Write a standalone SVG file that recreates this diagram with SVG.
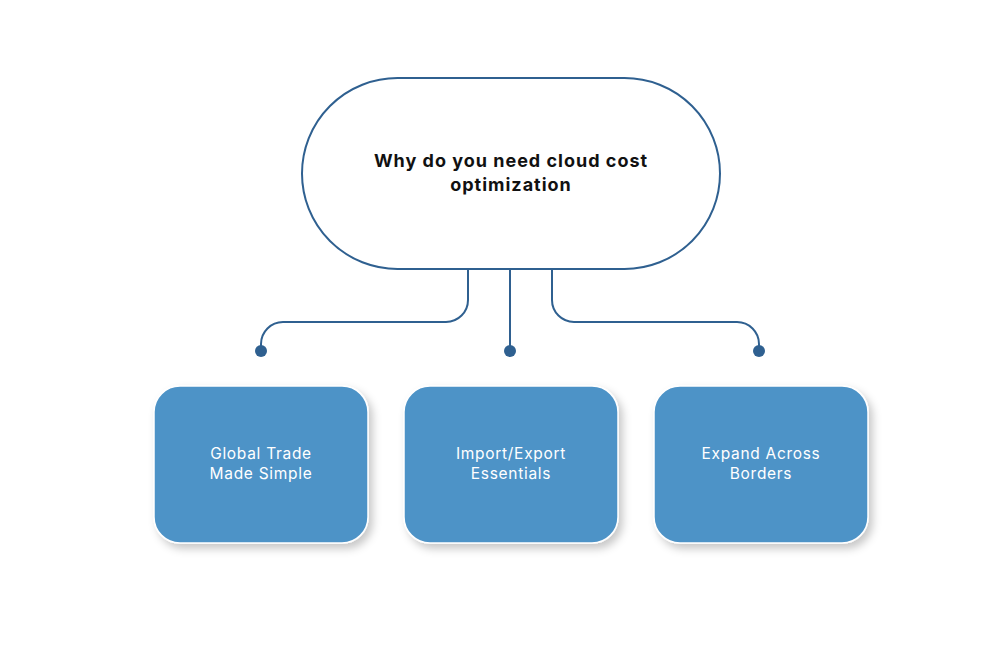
<svg xmlns="http://www.w3.org/2000/svg" width="998" height="652" viewBox="0 0 998 652">
<defs>
<filter id="sh" x="-20%" y="-20%" width="150%" height="150%">
<feDropShadow dx="4" dy="5" stdDeviation="4" flood-color="#000" flood-opacity="0.22"/>
</filter>
<style>
.box{fill:#4d93c7;stroke:#ffffff;stroke-width:1.5;filter:url(#sh)}
.bt{fill:#ffffff;font-family:"Inter","Liberation Sans",sans-serif;font-size:15.5px;letter-spacing:0.7px;text-anchor:middle}
.con{fill:none;stroke:#2f6090;stroke-width:2}
.dot{fill:#2f6090}
.tt{fill:#111;font-family:"Inter","Liberation Sans",sans-serif;font-size:18px;font-weight:bold;letter-spacing:1px;text-anchor:middle}
</style>
</defs>
<rect width="998" height="652" fill="#ffffff"/>
<g id="root">
<rect x="302" y="78" width="418" height="191" rx="95.5" fill="#ffffff" stroke="#2f6090" stroke-width="2"/>
<text class="tt" x="511" y="167">Why do you need cloud cost</text>
<text class="tt" x="511" y="191">optimization</text>
</g>
<g id="connectors">
<path class="con" d="M468,269 V300 A22,22 0 0 1 446,322 H283 A22,22 0 0 0 261,344 V351"/>
<path class="con" d="M510,269 V351"/>
<path class="con" d="M552,269 V300 A22,22 0 0 0 574,322 H737 A22,22 0 0 1 759,344 V351"/>
<circle class="dot" cx="261" cy="351" r="6"/>
<circle class="dot" cx="510" cy="351" r="6"/>
<circle class="dot" cx="759" cy="351" r="6"/>
</g>
<g id="box1">
<rect class="box" x="154" y="386" width="214" height="157" rx="26"/>
<text class="bt" x="261" y="459">Global Trade</text>
<text class="bt" x="261" y="479">Made Simple</text>
</g>
<g id="box2">
<rect class="box" x="404" y="386" width="214" height="157" rx="26"/>
<text class="bt" x="511" y="459">Import/Export</text>
<text class="bt" x="511" y="479">Essentials</text>
</g>
<g id="box3">
<rect class="box" x="654" y="386" width="214" height="157" rx="26"/>
<text class="bt" x="761" y="459">Expand Across</text>
<text class="bt" x="761" y="479">Borders</text>
</g>
</svg>
